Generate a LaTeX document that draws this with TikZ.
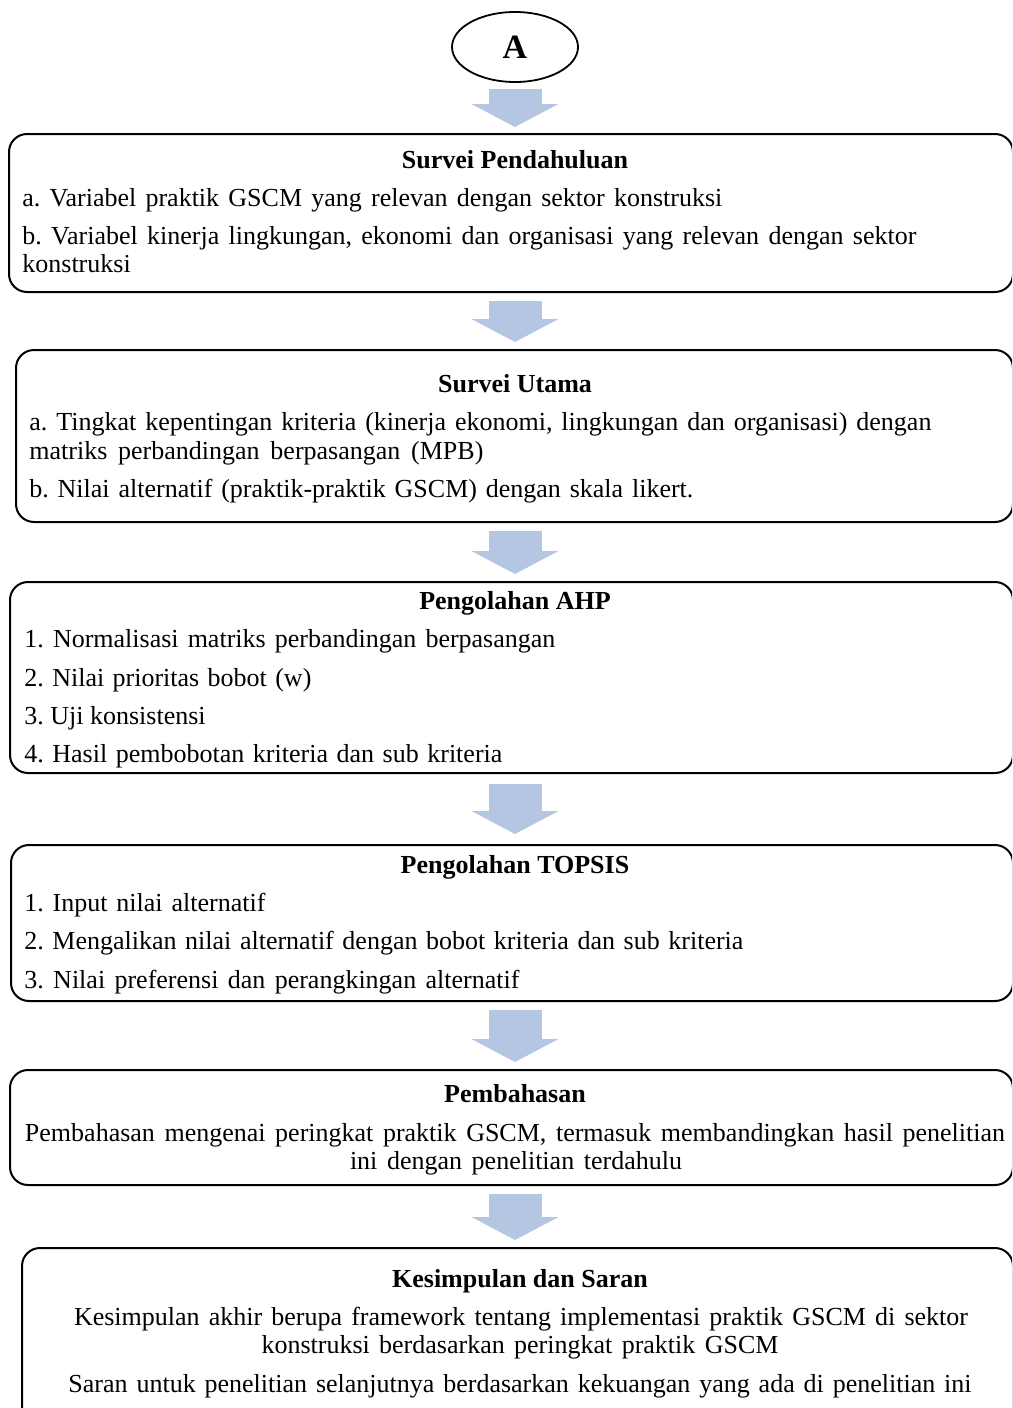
\documentclass[tikz,border=0pt]{standalone}
\usepackage{fontspec}
\setmainfont{Liberation Serif}
\usetikzlibrary{arrows.meta,shapes.geometric,fit}
\definecolor{flowblue}{RGB}{180,198,226}
\frenchspacing
% justified line of a given width
\newcommand{\jline}[2]{\makebox[#1][s]{#2}}

\begin{document}
\begin{tikzpicture}[x=0.5pt,y=-0.5pt,font=\fontsize{13pt}{15pt}\selectfont,
                    stage/.style={draw,line width=1pt,rounded corners=9pt,inner sep=0pt},
                    head/.style={font=\fontsize{13pt}{15pt}\selectfont\bfseries,anchor=base,inner sep=0pt},
                    item/.style={anchor=base west,inner sep=0pt},
                    mid/.style={anchor=base,inner sep=0pt},
                    flow/.style={draw=flowblue,line width=26.5pt,-{Triangle[width=43pt,length=11.5pt]},
                                 shorten <=4pt,shorten >=3.5pt}]
  \useasboundingbox (0,0) rectangle (1012,1408);
  \clip (0,0) rectangle (1012,1408);
  % start
  \node[ellipse,draw,line width=0.9pt,minimum width=63pt,minimum height=35pt,inner sep=0pt,
        font=\fontsize{17pt}{20pt}\selectfont\bfseries] (A) at (515,47) {A};
  % stages
  \node[stage,fit={(9,134) (1013,292)}] (survei) {};
  \node[stage,fit={(16,350) (1013,522)}] (utama) {};
  \node[stage,fit={(10,582) (1013,773)}] (ahp) {};
  \node[stage,fit={(11,845) (1013,1001)}] (topsis) {};
  \node[stage,fit={(10,1070) (1013,1185)}] (bahas) {};
  \node[stage,fit={(22,1248) (1013,1430)}] (simpul) {};
  % block arrows
  \draw[flow,shorten <=3pt,shorten >=3pt] (A.south) -- (A.south |- survei.north);
  \draw[flow] (A |- survei.south) -- (A |- utama.north);
  \draw[flow] (A |- utama.south) -- (A |- ahp.north);
  \draw[flow,shorten <=5pt,shorten >=5pt] (A |- ahp.south) -- (A |- topsis.north);
  \draw[flow] (A |- topsis.south) -- (A |- bahas.north);
  \draw[flow] (A |- bahas.south) -- (A |- simpul.north);
  % survei pendahuluan
  \node[head] (surveiT) at (515,168) {Survei Pendahuluan};
  \node[item] (surveiA) at (22,206) {\jline{350pt}{a. Variabel praktik GSCM yang relevan dengan sektor konstruksi}};
  \node[item] (surveiB) at (22,244) {\jline{447pt}{b. Variabel kinerja lingkungan, ekonomi dan organisasi yang relevan dengan sektor}};
  \node[item] (surveiB2) at (22,272) {konstruksi};
  % survei utama
  \node[head] (utamaT) at (515,392) {Survei Utama};
  \node[item] (utamaA) at (29,430) {\jline{451pt}{a. Tingkat kepentingan kriteria (kinerja ekonomi, lingkungan dan organisasi) dengan}};
  \node[item] (utamaA2) at (29,459) {\jline{227pt}{matriks perbandingan berpasangan (MPB)}};
  \node[item] (utamaB) at (29,497) {\jline{332pt}{b. Nilai alternatif (praktik-praktik GSCM) dengan skala likert.}};
  % AHP
  \node[head] (ahpT) at (515,609) {Pengolahan AHP};
  \node[item] (ahp1) at (24,647) {\jline{265.5pt}{1. Normalisasi matriks perbandingan berpasangan}};
  \node[item] (ahp2) at (24,686) {\jline{143.5pt}{2. Nilai prioritas bobot (w)}};
  \node[item] (ahp3) at (24,724) {3. Uji konsistensi};
  \node[item] (ahp4) at (24,762) {\jline{239pt}{4. Hasil pembobotan kriteria dan sub kriteria}};
  % TOPSIS
  \node[head] (topsisT) at (515,873) {Pengolahan TOPSIS};
  \node[item] (topsis1) at (24,911) {\jline{120.5pt}{1. Input nilai alternatif}};
  \node[item] (topsis2) at (24,949) {\jline{359.5pt}{2. Mengalikan nilai alternatif dengan bobot kriteria dan sub kriteria}};
  \node[item] (topsis3) at (24,988) {\jline{247.5pt}{3. Nilai preferensi dan perangkingan alternatif}};
  % pembahasan
  \node[head] (bahasT) at (515,1102) {Pembahasan};
  \node[mid] (bahas1) at (515,1141) {\jline{490pt}{Pembahasan mengenai peringkat praktik GSCM, termasuk membandingkan hasil penelitian}};
  \node[mid] (bahas2) at (516,1169) {\jline{166pt}{ini dengan penelitian terdahulu}};
  % kesimpulan
  \node[head] (simpulT) at (520,1287) {Kesimpulan dan Saran};
  \node[mid] (simpul1) at (521,1325) {\jline{447pt}{Kesimpulan akhir berupa framework tentang implementasi praktik GSCM di sektor}};
  \node[mid] (simpul2) at (520,1353) {\jline{258.5pt}{konstruksi berdasarkan peringkat praktik GSCM}};
  \node[mid] (simpul3) at (520,1392) {\jline{451.5pt}{Saran untuk penelitian selanjutnya berdasarkan kekuangan yang ada di penelitian ini}};
\end{tikzpicture}
\end{document}
